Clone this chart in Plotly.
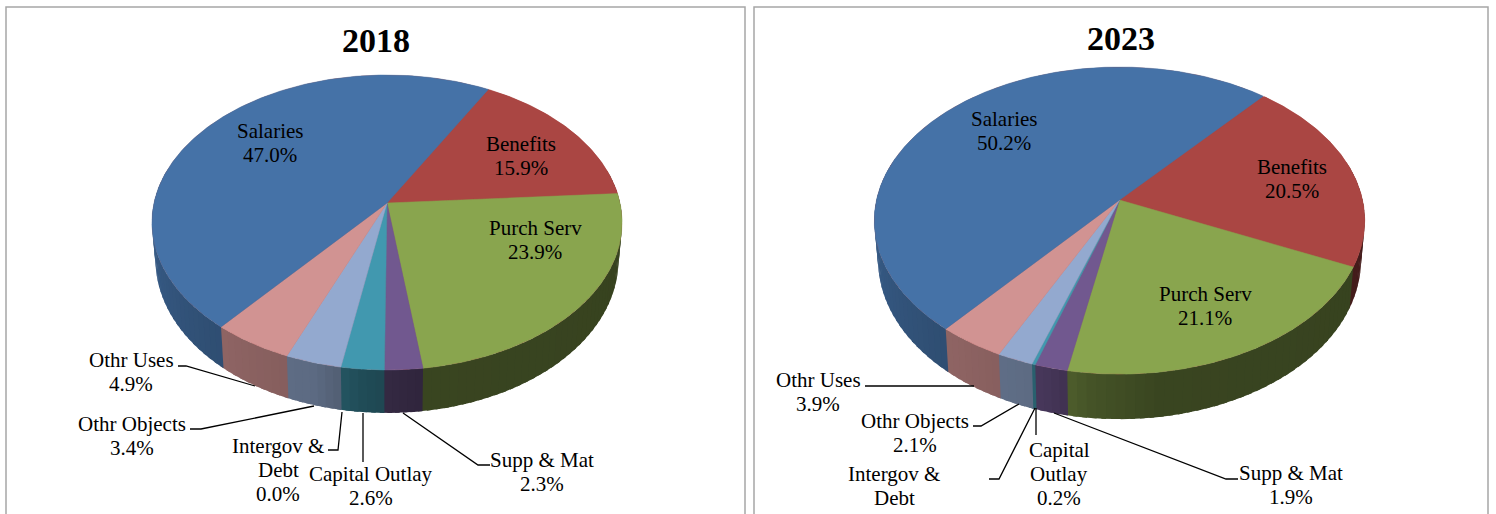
import numpy as np
import plotly.graph_objects as go

# ---------- data ----------
categories = ["Benefits", "Purch Serv", "Supp & Mat", "Capital Outlay",
              "Intergov & Debt", "Othr Objects", "Othr Uses", "Salaries"]
values_2018 = [15.9, 23.9, 2.3, 2.6, 0.0, 3.4, 4.9, 47.0]
values_2023 = [20.5, 21.1, 1.9, 0.2, 0.0, 2.1, 3.9, 50.2]
titles = ["2018", "2023"]

# ---------- style ----------
colors = ["#AA4643", "#89A54E", "#71588F", "#4198AF", "#DB843D", "#93A9CF", "#D19392", "#4572A7"]
FONT = "Liberation Serif"
LABEL_SIZE = 21
LINE_H = 24

geom_2018 = dict(cx=387, cy=203, A=233, B=144.9, p=0.132, start=29, depth=43)
geom_2023 = dict(cx=1119.5, cy=200, A=243, B=150.8, p=0.134, start=41, depth=45)

# label line layout: (lines, x, first-line y)
layout_2018 = {
    "Salaries": (["Salaries", "{v}"], 270, 131),
    "Benefits": (["Benefits", "{v}"], 521, 144),
    "Purch Serv": (["Purch Serv", "{v}"], 535, 228),
    "Othr Uses": (["Othr Uses", "{v}"], 131, 360),
    "Othr Objects": (["Othr Objects", "{v}"], 132, 424),
    "Intergov & Debt": (["Intergov &", "Debt", "{v}"], 278, 446),
    "Capital Outlay": (["Capital Outlay", "{v}"], 371, 474),
    "Supp & Mat": (["Supp & Mat", "{v}"], 542, 460),
}
layout_2023 = {
    "Salaries": (["Salaries", "{v}"], 1004, 119),
    "Benefits": (["Benefits", "{v}"], 1292, 167),
    "Purch Serv": (["Purch Serv", "{v}"], 1205, 294),
    "Othr Uses": (["Othr Uses", "{v}"], 818, 380),
    "Othr Objects": (["Othr Objects", "{v}"], 915, 421),
    "Intergov & Debt": (["Intergov &", "Debt"], 894, 474),
    "Capital Outlay": (["Capital", "Outlay", "{v}"], 1059, 450),
    "Supp & Mat": (["Supp & Mat", "{v}"], 1291, 473),
}
leaders = [
    [(178, 366), (186, 366), (255, 386)],
    [(190, 429), (201, 429), (314, 406)],
    [(328, 450), (338, 450), (342, 412)],
    [(363, 462), (363, 413)],
    [(490, 465), (478, 465), (403, 413)],
    [(865, 386), (974, 386)],
    [(973, 426), (981, 426), (1019, 404)],
    [(989, 479), (999, 479), (1035, 408)],
    [(1036, 408), (1036, 435)],
    [(1238, 479), (1226, 479), (1054, 413)],
]
boxes = [(6, 7, 745), (754, 7, 1488)]


def project(theta_deg, g):
    t = np.radians(theta_deg)
    u, v = np.sin(t), np.cos(t)
    w = 1 + g["p"] * v
    return g["cx"] + g["A"] * u / w, g["cy"] - g["B"] * v / w


def project_bottom(theta_deg, g):
    t = np.radians(theta_deg)
    u, v = np.sin(t), np.cos(t)
    w = 1 + g["p"] * v
    x = g["cx"] + 0.985 * g["A"] * u / w
    y = g["cy"] - g["B"] * v / w + g["depth"] * (0.84 - 0.16 * v)
    return x, y


def shade(theta):
    a = theta % 360
    return float(np.interp(a, [0, 90, 172, 185, 196, 210, 225, 260, 270, 360],
                           [0.42, 0.40, 0.42, 0.50, 0.63, 0.66, 0.70, 0.80, 0.80, 0.42]))


def scaled(hex_color, f):
    r, g, b = [int(hex_color[i:i + 2], 16) for i in (1, 3, 5)]
    return f"rgb({int(r * f)},{int(g * f)},{int(b * f)})"


fig = go.Figure()
annotations = []

for values, g, lay, title, tx, ty in [
    (values_2018, geom_2018, layout_2018, titles[0], 376, 40),
    (values_2023, geom_2023, layout_2023, titles[1], 1121, 38),
]:
    edges = g["start"] + np.concatenate([[0], np.cumsum(values)]) * 3.6
    # side walls, drawn first; every strip overlaps the next one so no seams show
    for i, col in enumerate(colors):
        a0, a1 = edges[i], edges[i + 1]
        if a1 <= a0:
            continue
        steps = max(1, int(np.ceil((a1 - a0) / 2)))
        grid = np.linspace(a0, a1, steps + 1)
        for s0, s1 in zip(grid[:-1], grid[1:]):
            if np.cos(np.radians((s0 + s1) / 2)) > 0.25:
                continue
            end = s1 + 1.0 if i < len(colors) - 1 or s1 < a1 else s1
            tt = np.linspace(s0, end, 3)
            xt, yt = project(tt, g)
            xb, yb = project_bottom(tt[::-1], g)
            fig.add_trace(go.Scatter(
                x=np.r_[xt, xb, xt[0]], y=np.r_[yt, yb, yt[0]], mode="lines",
                fill="toself", fillcolor=scaled(col, shade((s0 + s1) / 2)),
                line=dict(width=0), hoverinfo="skip", showlegend=False))
    # top face: underlay, then wedges
    tt = np.linspace(0, 360, 721)
    xs, ys = project(tt, g)
    fig.add_trace(go.Scatter(x=xs, y=ys, mode="lines", fill="toself", fillcolor=colors[0],
                             line=dict(width=0), hoverinfo="skip", showlegend=False))
    for i, col in enumerate(colors):
        a0, a1 = edges[i], edges[i + 1]
        if a1 <= a0:
            continue
        tt = np.linspace(a0, a1, max(2, int((a1 - a0) * 2)))
        xs, ys = project(tt, g)
        fig.add_trace(go.Scatter(
            x=np.r_[g["cx"], xs, g["cx"]], y=np.r_[g["cy"], ys, g["cy"]], mode="lines",
            fill="toself", fillcolor=col, line=dict(color=col, width=0.5),
            name=categories[i], hoverinfo="skip", showlegend=False))
    # text
    for cat, val in zip(categories, values):
        lines, x, y0 = lay[cat]
        for k, line in enumerate(lines):
            annotations.append(dict(
                x=x, y=y0 + k * LINE_H, text=line.format(v=f"{val:.1f}%").replace("&", "&amp;"),
                showarrow=False, xanchor="center", yanchor="middle",
                font=dict(family=FONT, size=LABEL_SIZE, color="#000000")))
    annotations.append(dict(
        x=tx, y=ty, text=f"<b>{title}</b>", showarrow=False, xanchor="center", yanchor="middle",
        font=dict(family=FONT, size=34, color="#000000")))

shapes = []
for x0, y0, x1 in boxes:
    shapes.append(dict(type="path", path=f"M{x0},530 L{x0},{y0} L{x1},{y0} L{x1},530",
                       line=dict(color="#A6A6A6", width=1.5)))
for pts in leaders:
    path = "M" + " L".join(f"{x},{y}" for x, y in pts)
    shapes.append(dict(type="path", path=path, line=dict(color="#000000", width=1.3)))

fig.update_layout(
    width=1496, height=514, margin=dict(l=0, r=0, t=0, b=0),
    paper_bgcolor="white", plot_bgcolor="white", showlegend=False,
    xaxis=dict(range=[0, 1496], visible=False, fixedrange=True),
    yaxis=dict(range=[514, 0], visible=False, fixedrange=True),
    annotations=annotations, shapes=shapes,
)
fig.write_html("out.html", config=dict(displayModeBar=False),
               post_script="document.body.style.margin='0';document.body.style.overflow='hidden';")
